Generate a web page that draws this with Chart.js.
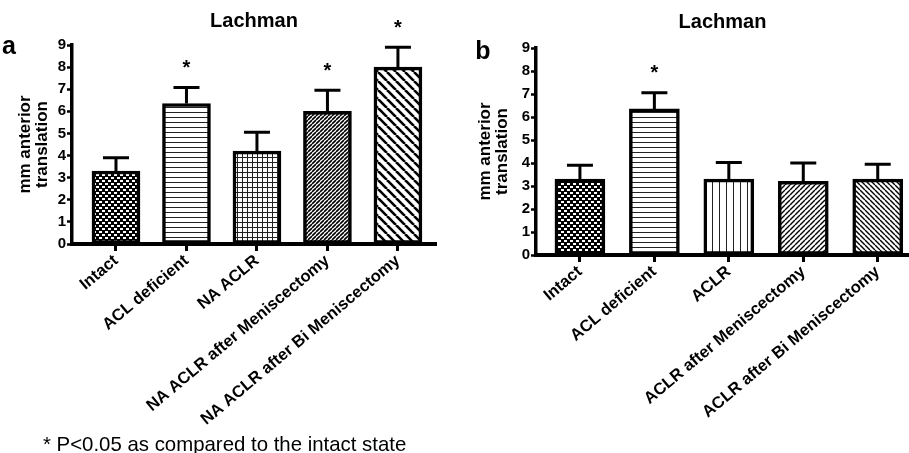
<!DOCTYPE html>
<html lang="en">
<head>
<meta charset="UTF-8">
<title>Lachman</title>
<script src="https://cdn.jsdelivr.net/npm/chart.js@4"></script>
<style>
  body { margin: 0; background: #fff; width: 909px; height: 453px; position: relative; overflow: hidden; font-family: "Liberation Sans", Arial, sans-serif; }
  #wrapA { position: absolute; left: 0; top: 0; width: 450px; height: 440px; }
  #wrapB { position: absolute; left: 450px; top: 0; width: 459px; height: 440px; }
  #note { position: absolute; left: 43px; top: 433px; font-size: 20.4px; line-height: 22px; color: #000; white-space: nowrap; }
</style>
</head>
<body>
<div id="wrapA"><canvas id="chartA" width="450" height="440"></canvas></div>
<div id="wrapB"><canvas id="chartB" width="459" height="440"></canvas></div>
<div id="note">* P&lt;0.05 as compared to the intact state</div>

<script>
// panel a
const catsA = ['Intact', 'ACL deficient', 'NA ACLR', 'NA ACLR after Meniscectomy', 'NA ACLR after Bi Meniscectomy'];
const valsA = [3.3, 6.35, 4.2, 6.0, 8.0];
const errA = [0.6, 0.73, 0.85, 0.95, 0.9];
const sigA = [false, true, false, true, true];

// panel b
const catsB = ['Intact', 'ACL deficient', 'ACLR', 'ACLR after Meniscectomy', 'ACLR after Bi Meniscectomy'];
const valsB = [3.3, 6.35, 3.3, 3.2, 3.3];
const errB = [0.6, 0.7, 0.72, 0.8, 0.65];
const sigB = [false, true, false, false, false];

const yTicks = [0, 1, 2, 3, 4, 5, 6, 7, 8, 9];

const FAMILY = '"Liberation Sans", Arial, sans-serif';
const H = 440;

// fill patterns for the bars
function makePattern(kind) {
  const c = document.createElement('canvas');
  const g = c.getContext('2d');
  let n = 6;
  if (kind === 'checker') {
    n = 6; c.width = c.height = n;
    g.fillStyle = '#000'; g.fillRect(0, 0, n, n);
    g.fillStyle = '#fff';
    g.fillRect(0, 0, 3, 2); g.fillRect(3, 3, 3, 2);
  } else if (kind === 'hlines') {
    c.width = 4; c.height = 5;
    g.fillStyle = '#fff'; g.fillRect(0, 0, 4, 5);
    g.fillStyle = '#222'; g.fillRect(0, 2, 4, 1);
  } else if (kind === 'grid') {
    n = 5; c.width = c.height = n;
    g.fillStyle = '#fff'; g.fillRect(0, 0, n, n);
    g.fillStyle = '#222'; g.fillRect(0, 2, n, 1); g.fillRect(2, 0, 1, n);
  } else if (kind === 'vlines') {
    c.width = 7; c.height = 4;
    g.fillStyle = '#fff'; g.fillRect(0, 0, 7, 4);
    g.fillStyle = '#222'; g.fillRect(3, 0, 1, 4);
  } else {
    // diagonal hatching
    const spec = { dense: [4, 1.6, 1], fwd: [5, 1.4, 1], back: [5, 1.4, -1], wideBack: [9, 2.6, -1] }[kind];
    n = spec[0]; c.width = c.height = n;
    g.fillStyle = '#fff'; g.fillRect(0, 0, n, n);
    g.strokeStyle = '#000'; g.lineWidth = spec[1];
    g.beginPath();
    for (let k = -1; k <= 1; k++) {
      if (spec[2] > 0) { g.moveTo(k * n, n); g.lineTo(k * n + n, 0); }
      else { g.moveTo(k * n, 0); g.lineTo(k * n + n, n); }
    }
    g.stroke();
  }
  return g.createPattern(c, 'repeat');
}

const extras = {
  id: 'extras',
  afterDraw(chart, args, o) {
    const ctx = chart.ctx;
    const xs = chart.scales.x, ys = chart.scales.y;
    const area = chart.chartArea;
    ctx.save();
    ctx.strokeStyle = '#000';
    ctx.fillStyle = '#000';
    ctx.lineWidth = 3;
    ctx.textAlign = 'center';
    ctx.textBaseline = 'middle';
    ctx.font = 'bold 20px ' + FAMILY;
    o.values.forEach((v, i) => {
      const px = xs.getPixelForValue(i + 1);
      const base = ys.getPixelForValue(v);
      const top = ys.getPixelForValue(v + o.errors[i]);
      ctx.beginPath();
      ctx.moveTo(px, base); ctx.lineTo(px, top);
      ctx.moveTo(px - 13, top); ctx.lineTo(px + 13, top);
      ctx.stroke();
      if (o.sig[i]) ctx.fillText('*', px, top - 19);
    });
    ctx.font = 'bold 20px ' + FAMILY;
    ctx.fillText('Lachman', (area.left + area.right) / 2, o.titleY);
    ctx.font = 'bold 25px ' + FAMILY;
    ctx.fillText(o.letter, o.letterX, o.letterY);
    ctx.restore();
  }
};

function buildPanel(id, cats, vals, errs, sig, kinds, geo) {
  const data = vals.map((v, i) => ({ x: i + 1, y: v }));
  return new Chart(document.getElementById(id), {
    type: 'bar',
    data: {
      datasets: [{
        data: data,
        backgroundColor: kinds.map(makePattern),
        borderColor: '#000',
        borderWidth: 3.5,
        borderSkipped: false,
        barThickness: geo.barW
      }]
    },
    options: {
      responsive: false,
      animation: false,
      layout: { padding: { left: 0, right: geo.padRight, top: geo.top, bottom: 0 } },
      plugins: {
        legend: { display: false },
        tooltip: { enabled: false },
        extras: { values: vals, errors: errs, sig: sig, letter: geo.letter, letterX: geo.letterX, letterY: geo.letterY, titleY: geo.titleY }
      },
      scales: {
        x: {
          type: 'linear',
          offset: false,
          min: geo.xmin,
          max: geo.xmax,
          afterBuildTicks: s => { s.ticks = cats.map((c, i) => ({ value: i + 1 })); },
          afterFit: s => { s.height = H - geo.bottom; },
          border: { display: true, color: '#000', width: 4 },
          grid: { display: true, offset: false, drawOnChartArea: false, drawTicks: true, tickLength: 7, tickWidth: 3, tickColor: '#000' },
          ticks: {
            autoSkip: false,
            minRotation: 40,
            maxRotation: 40,
            padding: 0,
            color: '#000',
            font: { family: FAMILY, size: 16.5, weight: 'bold' },
            callback: v => cats[Math.round(v) - 1]
          }
        },
        y: {
          min: 0,
          max: 9,
          afterBuildTicks: s => { s.ticks = yTicks.map(v => ({ value: v })); },
          afterFit: s => { s.width = geo.left; },
          border: { display: true, color: '#000', width: 3.5 },
          grid: { display: true, drawOnChartArea: false, drawTicks: true, tickLength: 5, tickWidth: 2.5, tickColor: '#000' },
          ticks: {
            padding: 1,
            color: '#000',
            font: { family: FAMILY, size: 15, weight: 'bold' }
          },
          title: {
            display: true,
            text: ['mm anterior', 'translation'],
            color: '#000',
            padding: { top: geo.titlePad, bottom: 0 },
            font: { family: FAMILY, size: 17, weight: 'bold', lineHeight: 1.0 }
          }
        }
      }
    },
    plugins: [extras]
  });
}

buildPanel('chartA', catsA, valsA, errA, sigA,
  ['checker', 'hlines', 'grid', 'dense', 'wideBack'],
  { left: 72, padRight: 14, top: 45, bottom: 244, xmin: 0.376, xmax: 5.54, barW: 48,
    titlePad: 16.5, letter: 'a', letterX: 9, letterY: 47, titleY: 21 });

buildPanel('chartB', catsB, valsB, errB, sigB,
  ['checker', 'hlines', 'vlines', 'fwd', 'back'],
  { left: 86, padRight: 0, top: 48, bottom: 255, xmin: 0.41, xmax: 5.42, barW: 50,
    titlePad: 26.5, letter: 'b', letterX: 33, letterY: 52, titleY: 22 });
</script>
</body>
</html>
